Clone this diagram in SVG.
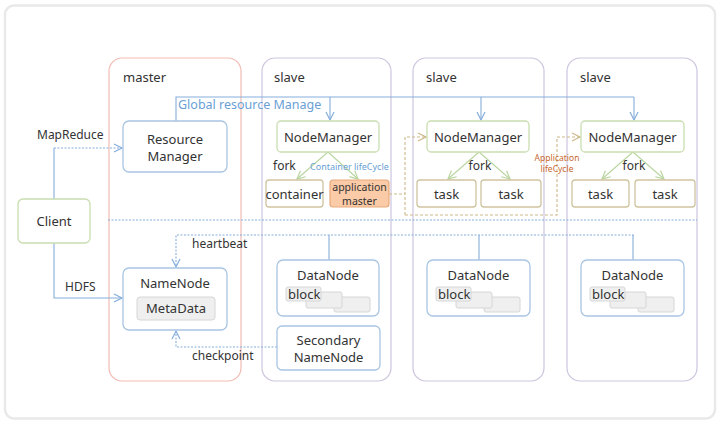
<svg xmlns="http://www.w3.org/2000/svg" width="720" height="423" viewBox="0 0 720 423">
<style>
text{font-family:"Noto Sans","Open Sans","DejaVu Sans",sans-serif;font-size:13px;fill:#333;}
.c{text-anchor:middle;}
.grp{fill:none;stroke-width:1.2;}
.blue{fill:#fff;stroke:#a9c5e3;stroke-width:1.3;}
.green{fill:#fff;stroke:#c9ddb0;stroke-width:1.3;}
.tan{fill:#fff;stroke:#cfc4a0;stroke-width:1.3;}
.blk{fill:#efefef;stroke:#d6d6d6;stroke-width:1;}
.lb{fill:none;stroke:#86aedb;stroke-width:1.1;}
.ld{fill:none;stroke:#86aedb;stroke-width:1.1;stroke-dasharray:2 1.5;}
.lg{fill:none;stroke:#b9d59f;stroke-width:1.1;}
.lt{fill:none;stroke:#cdb888;stroke-width:1.1;stroke-dasharray:3 2;}
</style>
<defs>
<marker id="ab" markerWidth="12" markerHeight="12" refX="9" refY="5" orient="auto" markerUnits="userSpaceOnUse"><path d="M1,1 L9,5 L1,9" fill="none" stroke="#86aedb" stroke-width="1.2"/></marker>
<marker id="ag" markerWidth="12" markerHeight="12" refX="9" refY="5" orient="auto" markerUnits="userSpaceOnUse"><path d="M1,1 L9,5 L1,9" fill="none" stroke="#b9d59f" stroke-width="1.2"/></marker>
<marker id="at" markerWidth="12" markerHeight="12" refX="9" refY="5" orient="auto" markerUnits="userSpaceOnUse"><path d="M1,1 L9,5 L1,9" fill="none" stroke="#cdb888" stroke-width="1.2"/></marker>
</defs>
<rect x="5" y="5.5" width="710" height="413" rx="9" fill="#fff" stroke="#e9e9e9" stroke-width="2.5"/>

<g id="master">
<rect class="grp" x="109" y="58" width="132" height="323" rx="13" stroke="#f2bcb4"/>
<text x="123" y="82">master</text>
</g>
<g id="slave1">
<rect class="grp" x="262" y="58" width="129" height="323" rx="13" stroke="#cdc5de"/>
<text x="274" y="82">slave</text>
</g>
<g id="slave2">
<rect class="grp" x="413" y="58" width="131" height="323" rx="13" stroke="#cdc5de"/>
<text x="426" y="82">slave</text>
</g>
<g id="slave3">
<rect class="grp" x="567" y="58" width="130" height="323" rx="13" stroke="#cdc5de"/>
<text x="580" y="82">slave</text>
</g>

<g id="connectors">
<line class="ld" x1="108" y1="220" x2="697" y2="220"/>
<path class="lb" d="M176,121 V97 H634"/>
<path class="lb" d="M330,97 V120" marker-end="url(#ab)"/>
<path class="lb" d="M481,97 V120" marker-end="url(#ab)"/>
<path class="lb" d="M634,97 V120" marker-end="url(#ab)"/>
<path class="lb" d="M54,199 V148"/>
<path class="ld" d="M54,148 H122" marker-end="url(#ab)"/>
<path class="lb" d="M54,243 V298 H122" marker-end="url(#ab)"/>
<path class="ld" d="M634,235 H176 V267" marker-end="url(#ab)"/>
<path class="lb" d="M329,235 V260 M479,235 V260 M633,235 V260"/>
<path class="ld" d="M277,347 H176 V331" marker-end="url(#ab)"/>
<path class="lg" d="M328,152 L297,179" marker-end="url(#ag)"/>
<path class="lg" d="M328,152 L358,179" marker-end="url(#ag)"/>
<path class="lg" d="M479,152 L448,179" marker-end="url(#ag)"/>
<path class="lg" d="M479,152 L510,179" marker-end="url(#ag)"/>
<path class="lg" d="M633,152 L602,179" marker-end="url(#ag)"/>
<path class="lg" d="M633,152 L664,179" marker-end="url(#ag)"/>
<path class="lt" d="M389,194 H405"/>
<path class="lt" d="M405,215 V137 H426" marker-end="url(#at)"/>
<path class="lt" d="M405,215 H557 V137 H580" marker-end="url(#at)"/>
<text x="178" y="109" style="fill:#6a9fd6;font-size:12.5px">Global resource Manage</text>
<text x="37" y="139" style="font-size:12px">MapReduce</text>
<text x="65" y="291" style="font-size:12px">HDFS</text>
<text x="192" y="248" style="font-size:12px">heartbeat</text>
<text x="192" y="360" style="font-size:12px">checkpoint</text>
<text x="273" y="170" style="font-size:12px">fork</text>
<text x="310" y="170" style="font-size:9px;fill:#6a9fd6">Container lifeCycle</text>
<text x="480" y="170" class="c" style="font-size:12px">fork</text>
<text x="634" y="170" class="c" style="font-size:12px">fork</text>
<text x="557" y="161" class="c" style="font-size:8.5px;fill:#c8682e">Application</text>
<text x="557" y="172" class="c" style="font-size:8.5px;fill:#c8682e">lifeCycle</text>
</g>

<g id="client">
<rect class="green" x="18" y="199" width="72" height="44" rx="5"/>
<text class="c" x="54" y="226">Client</text>
</g>
<g id="resourcemanager">
<rect class="blue" x="123" y="121" width="104" height="51" rx="6"/>
<text class="c" x="175" y="144">Resource</text>
<text class="c" x="175" y="161">Manager</text>
</g>
<g id="namenode">
<rect class="blue" x="123" y="268" width="104" height="62" rx="6"/>
<text class="c" x="175" y="288">NameNode</text>
<rect class="blk" x="137" y="297" width="78" height="23" rx="3"/>
<text class="c" x="176" y="313">MetaData</text>
</g>

<g id="nm1">
<rect class="green" x="277" y="121" width="102" height="31" rx="4"/>
<text class="c" x="328" y="142">NodeManager</text>
</g>
<g id="container">
<rect class="tan" x="266" y="180" width="57" height="27" rx="3"/>
<text class="c" x="294.5" y="199">container</text>
</g>
<g id="appmaster">
<rect x="330" y="180" width="59" height="27" rx="3" fill="#fbcaa6" stroke="#e7aa7d" stroke-width="1.2"/>
<text class="c" x="359.5" y="190.5" style="font-size:10.5px">application</text>
<text class="c" x="359.5" y="204.5" style="font-size:10.5px">master</text>
</g>
<g id="dn1">
<rect class="blue" x="277" y="260" width="102" height="56" rx="6"/>
<text class="c" x="328" y="280">DataNode</text>
<rect class="blk" x="334" y="297" width="36" height="15" rx="2"/>
<rect class="blk" x="306" y="292" width="36" height="16" rx="2"/>
<rect class="blk" x="286" y="287" width="35" height="14" rx="2"/>
<text x="288" y="299">block</text>
</g>
<g id="snn">
<rect class="blue" x="277" y="326" width="103" height="44" rx="5"/>
<text class="c" x="328.5" y="345">Secondary</text>
<text class="c" x="328.5" y="362">NameNode</text>
</g>

<g id="nm2">
<rect class="green" x="427" y="121" width="102" height="31" rx="4"/>
<text class="c" x="478" y="142">NodeManager</text>
</g>
<g id="task2a">
<rect class="tan" x="417" y="180" width="59" height="27" rx="3"/>
<text class="c" x="446.5" y="199">task</text>
</g>
<g id="task2b">
<rect class="tan" x="481" y="180" width="60" height="27" rx="3"/>
<text class="c" x="511" y="199">task</text>
</g>
<g id="dn2">
<rect class="blue" x="427" y="260" width="103" height="56" rx="6"/>
<text class="c" x="478.5" y="280">DataNode</text>
<rect class="blk" x="484" y="297" width="36" height="15" rx="2"/>
<rect class="blk" x="456" y="292" width="36" height="16" rx="2"/>
<rect class="blk" x="436" y="287" width="35" height="14" rx="2"/>
<text x="438" y="299">block</text>
</g>

<g id="nm3">
<rect class="green" x="581" y="121" width="103" height="31" rx="4"/>
<text class="c" x="632.5" y="142">NodeManager</text>
</g>
<g id="task3a">
<rect class="tan" x="572" y="180" width="57" height="27" rx="3"/>
<text class="c" x="600.5" y="199">task</text>
</g>
<g id="task3b">
<rect class="tan" x="635" y="180" width="60" height="27" rx="3"/>
<text class="c" x="665" y="199">task</text>
</g>
<g id="dn3">
<rect class="blue" x="581" y="260" width="103" height="56" rx="6"/>
<text class="c" x="632.5" y="280">DataNode</text>
<rect class="blk" x="638" y="297" width="36" height="15" rx="2"/>
<rect class="blk" x="610" y="292" width="36" height="16" rx="2"/>
<rect class="blk" x="590" y="287" width="35" height="14" rx="2"/>
<text x="592" y="299">block</text>
</g>
</svg>
